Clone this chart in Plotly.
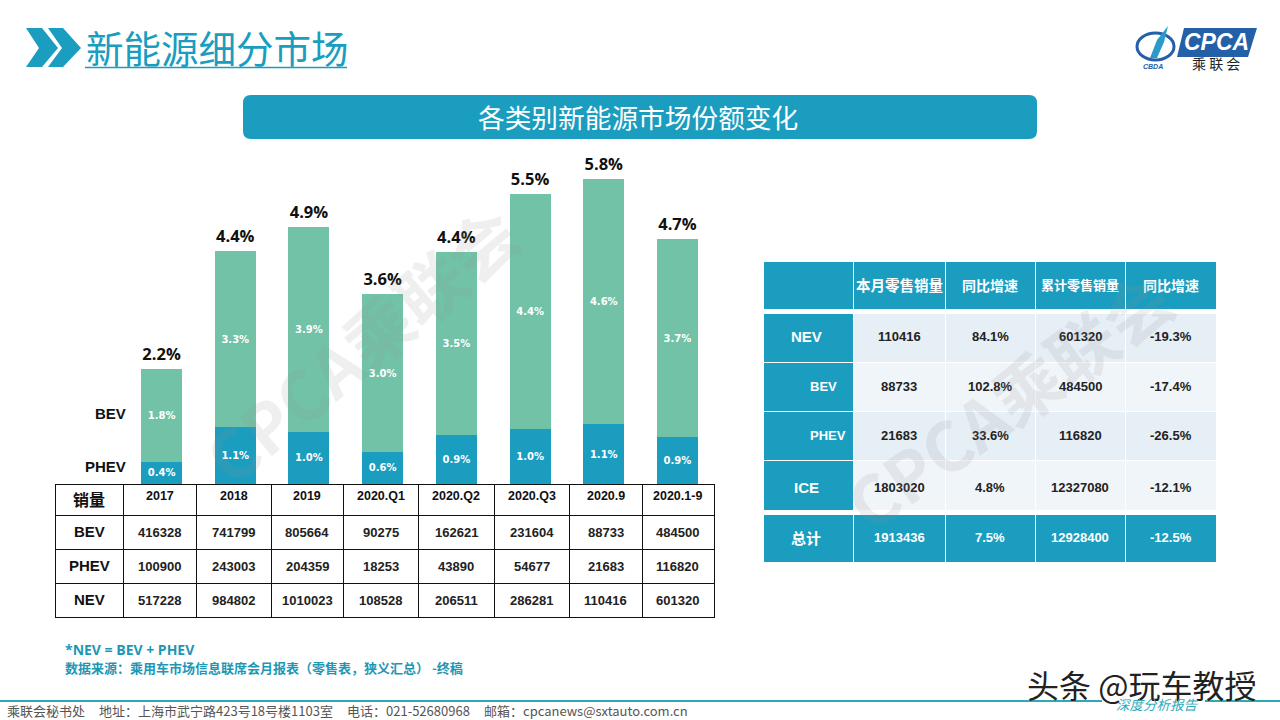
import plotly.graph_objects as go

W = 1280
H = 720

# bars
periods = ["2017", "2018", "2019", "2020.Q1", "2020.Q2", "2020.Q3", "2020.9", "2020.1-9"]
phev_share = [0.42, 1.08, 0.99, 0.61, 0.93, 1.05, 1.14, 0.89]
bev_share = [1.77, 3.35, 3.90, 3.00, 3.48, 4.46, 4.66, 3.77]
total_share = [2.19, 4.43, 4.89, 3.61, 4.41, 5.51, 5.80, 4.66]
phev_labels = ["0.4%", "1.1%", "1.0%", "0.6%", "0.9%", "1.0%", "1.1%", "0.9%"]
bev_labels = ["1.8%", "3.3%", "3.9%", "3.0%", "3.5%", "4.4%", "4.6%", "3.7%"]
total_labels = ["2.2%", "4.4%", "4.9%", "3.6%", "4.4%", "5.5%", "5.8%", "4.7%"]

# left table
bev_sales = [416328, 741799, 805664, 90275, 162621, 231604, 88733, 484500]
phev_sales = [100900, 243003, 204359, 18253, 43890, 54677, 21683, 116820]
nev_sales = [517228, 984802, 1010023, 108528, 206511, 286281, 110416, 601320]
left_rows = ["BEV", "PHEV", "NEV"]

# right table
right_head = ["本月零售销量", "同比增速", "累计零售销量", "同比增速"]
right_names = ["NEV", "BEV", "PHEV", "ICE"]
month_sales = [110416, 88733, 21683, 1803020]
month_yoy = ["84.1%", "102.8%", "33.6%", "4.8%"]
ytd_sales = [601320, 484500, 116820, 12327080]
ytd_yoy = ["-19.3%", "-17.4%", "-26.5%", "-12.1%"]
total_row = ["1913436", "7.5%", "12928400", "-12.5%"]

TEAL = "#1A9DBF"
GREEN = "#71C2A6"
LINE = "#2FA9B8"
NAVY = "#2460A8"
CJK = "Noto Sans CJK SC"
SANS = "Open Sans"
ARIAL = "Liberation Sans"

left_x = [55, 123, 196, 271, 343, 418, 494, 569, 642, 713]
right_x = [763, 853, 945, 1035, 1125, 1216]


def px(x):
    return x / W


def py(y):
    return 1 - y / H


def poly(points, color):
    d = "M " + " L ".join(f"{px(a)},{py(b)}" for a, b in points) + " Z"
    return dict(type="path", xref="paper", yref="paper", path=d, fillcolor=color, line_width=0)


def note(text, x, y, size, color="#000000", anchor="center", family=CJK, **kw):
    fig.add_annotation(text=text, x=px(x), y=py(y), xref="paper", yref="paper", showarrow=False,
                       xanchor=anchor, yanchor="middle", font=dict(size=size, color=color, family=family), **kw)


def grid(edges, top, first, rest, n_rows, fills, line):
    # go.Table puts text at the top of a cell, so it only draws fills and borders here
    # first row goes in the header slot, an empty header would still take up height
    cols = len(edges) - 1
    bottom = top + first + rest * (n_rows - 1)
    t = go.Table(
        domain=dict(x=[px(edges[0]), px(edges[-1] + 1)], y=[py(bottom + 3), py(top)]),
        columnwidth=[edges[i + 1] - edges[i] for i in range(cols)],
        header=dict(values=[""] * cols, height=first, line=line, font=dict(size=8),
                    fill_color=[c[0] for c in fills]),
    )
    if n_rows > 1:
        t.cells = dict(values=[[""] * (n_rows - 1)] * cols, height=rest, line=line, font=dict(size=8),
                       fill_color=[c[1:] for c in fills])
    fig.add_trace(t)


def mid(edges, i):
    return (edges[i] + edges[i + 1]) / 2


fig = go.Figure()

seg_font = dict(color="white", size=10, family="DejaVu Sans", weight="bold")
fig.add_trace(go.Bar(x=periods, y=phev_share, text=phev_labels, marker_color=TEAL, marker_line_width=0,
                     textposition="inside", insidetextanchor="middle", textangle=0, textfont=seg_font))
fig.add_trace(go.Bar(x=periods, y=bev_share, text=bev_labels, marker_color=GREEN, marker_line_width=0,
                     textposition="inside", insidetextanchor="middle", textangle=0, textfont=seg_font))
# invisible marker only pushes the total label up off the bar
fig.add_trace(go.Scatter(x=periods, y=total_share, text=total_labels, mode="markers+text", textposition="top center",
                         marker=dict(size=6, opacity=0), cliponaxis=False,
                         textfont=dict(color="#111111", size=16.5, family=SANS, weight=700)))

clear = "rgba(0,0,0,0)"
black = dict(color="#111111", width=1)
white = dict(color="white", width=1)
grid(left_x, 484, 31, 34, 4, [[clear] * 4] * 9, black)

light = ["#E6EEF6", "#F0F5FA", "#E6EEF6", "#F0F5FA"]
grid(right_x, 261, 48, 48, 1, [[TEAL]] * 5, white)
grid(right_x, 313, 49.25, 49.25, 4, [[TEAL] * 4] + [light] * 4, white)
grid(right_x, 514, 48, 48, 1, [[TEAL]] * 5, white)

# left table text
note("<b>销量</b>", mid(left_x, 0), 499, 16, "#111111")
for i, p in enumerate(periods):
    note(f"<b>{p}</b>", mid(left_x, i + 1), 496, 12.5, "#111111", family=ARIAL)
    for j, v in enumerate([bev_sales[i], phev_sales[i], nev_sales[i]]):
        note(f"<b>{v}</b>", mid(left_x, i + 1), 532 + 34 * j, 13, "#222222", family=ARIAL)
for j, r in enumerate(left_rows):
    note(f"<b>{r}</b>", mid(left_x, 0), 531 + 34 * j, 15, "#111111", family=ARIAL)

# right table text
for i, h in enumerate(right_head):
    note(f"<b>{h}</b>", mid(right_x, i + 1), 285, 14.5 if i == 0 else (13 if i == 2 else 14), "white")
    note(f"<b>{total_row[i]}</b>", mid(right_x, i + 1), 537, 13, "white", family=ARIAL)
rows_y = [336, 386, 436, 487]
for j in range(4):
    indent = j in (1, 2)
    if indent:
        note(f"<b>{right_names[j]}</b>", 808, rows_y[j], 13, "white", "left", ARIAL)
    else:
        note(f"<b>{right_names[j]}</b>", 806, rows_y[j], 15, "white", "center", ARIAL)
    for i, v in enumerate([month_sales[j], month_yoy[j], ytd_sales[j], ytd_yoy[j]]):
        note(f"<b>{v}</b>", mid(right_x, i + 1), rows_y[j], 13, "#222222", family=ARIAL)
note("<b>总计</b>", 806, 537, 15, "white")

# title bar, chevrons, rules
r = 8
x0, x1, y0, y1 = 243, 1037, 95, 139
banner = (f"M {px(x0 + r)},{py(y0)} L {px(x1 - r)},{py(y0)} Q {px(x1)},{py(y0)} {px(x1)},{py(y0 + r)} "
          f"L {px(x1)},{py(y1 - r)} Q {px(x1)},{py(y1)} {px(x1 - r)},{py(y1)} L {px(x0 + r)},{py(y1)} "
          f"Q {px(x0)},{py(y1)} {px(x0)},{py(y1 - r)} L {px(x0)},{py(y0 + r)} Q {px(x0)},{py(y0)} {px(x0 + r)},{py(y0)} Z")
shapes = [
    dict(type="path", xref="paper", yref="paper", path=banner, fillcolor=TEAL, line_width=0),
    poly([(26, 28), (42, 28), (58, 48), (42, 67), (26, 67), (39, 48)], TEAL),
    poly([(48, 28), (63, 28), (81, 48), (63, 67), (48, 67), (62, 48)], TEAL),
    dict(type="line", xref="paper", yref="paper", x0=px(85), x1=px(347), y0=py(67.5), y1=py(67.5),
         line=dict(color=TEAL, width=1.5)),
    dict(type="line", xref="paper", yref="paper", x0=0, x1=px(1102), y0=py(701), y1=py(701),
         line=dict(color=LINE, width=2)),
    dict(type="line", xref="paper", yref="paper", x0=px(1205), x1=1, y0=py(701), y1=py(701),
         line=dict(color=LINE, width=2)),
    # logo
    poly([(1184, 28), (1257, 28), (1248, 57), (1177, 57)], NAVY),
    dict(type="circle", xref="paper", yref="paper", x0=px(1137), x1=px(1174), y0=py(33), y1=py(60),
         line=dict(color=NAVY, width=3), fillcolor=clear),
    poly([(1150, 58), (1157, 40), (1168, 26), (1164, 42), (1157, 58)], "#2A9BC8"),
]

note("新能源细分市场", 84, 47, 37.5, TEAL, "left")
note("各类别新能源市场份额变化", 638, 117, 26.7, "white")
note("<b>BEV</b>", 128, 414, 15, "#111111", "right", ARIAL)
note("<b>PHEV</b>", 128, 466, 15, "#111111", "right", ARIAL)
note("<b>*NEV = BEV + PHEV</b>", 63, 649, 14, "#1D97B4", "left", SANS)
note("<b>数据来源：乘用车市场信息联席会月报表（零售表，狭义汇总） -终稿</b>", 63, 667, 13, "#1D97B4", "left")
note("乘联会秘书处", 5, 710, 13, "#555555", "left")
note("地址：上海市武宁路423号18号楼1103室", 97, 710, 13, "#555555", "left")
note("电话：021-52680968", 345, 710, 13, "#555555", "left")
note("邮箱：cpcanews@sxtauto.com.cn", 482, 710, 13, "#555555", "left")
note("头条 @玩车教授", 1025, 684, 32, "#222222", "left")
note("<i>深度分析报告</i>", 1157, 704, 13.5, LINE)
note("<i><b>CPCA</b></i>", 1216, 42, 23, "#FFFFFF", family=ARIAL)
note("乘 联 会", 1216, 63, 14, "#222222")
note("<i><b>CBDA</b></i>", 1153, 66, 7, NAVY, family=ARIAL)

# watermarks
note("<b>CPCA乘联会</b>", 360, 343, 68, "rgba(150,150,150,0.15)", textangle=-40)
note("<b>CPCA乘联会</b>", 1008, 398, 68, "rgba(150,150,150,0.15)", textangle=-36)

fig.update_layout(
    width=W, height=H, autosize=False, margin=dict(l=0, r=0, t=0, b=0),
    paper_bgcolor="white", plot_bgcolor=clear, showlegend=False,
    barmode="stack", bargap=0.444, shapes=shapes,
    font=dict(family=CJK),
    xaxis=dict(domain=[px(124.7), px(714.3)], visible=False, type="category", fixedrange=True),
    yaxis=dict(domain=[py(484), py(150)], range=[0, 6.35], visible=False, fixedrange=True),
)

fig.write_html("out.html", config=dict(displayModeBar=False),
               post_script="document.body.style.margin='0';document.body.style.overflow='hidden';")
